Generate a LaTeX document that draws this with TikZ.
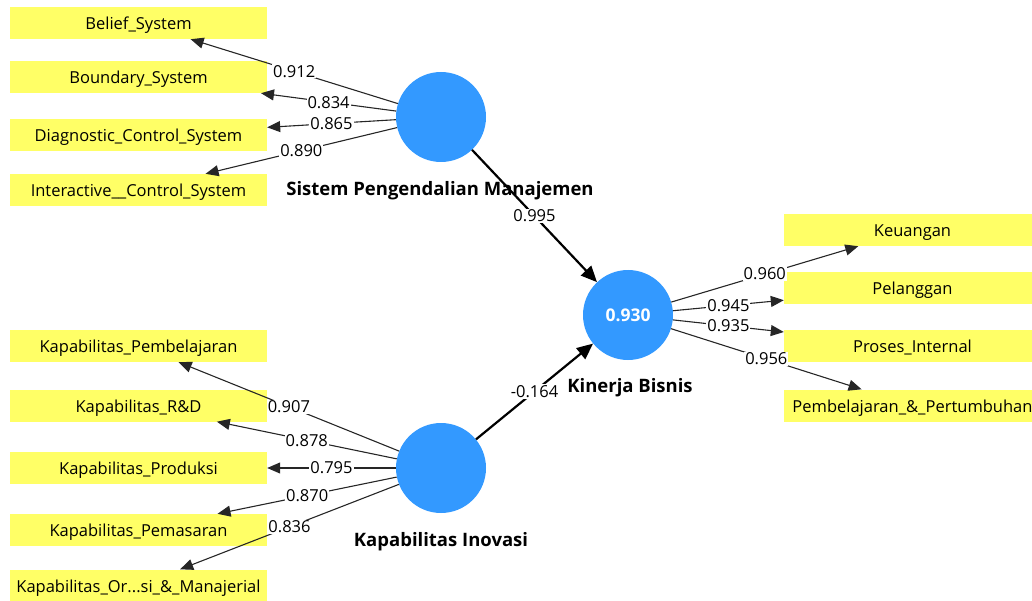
\documentclass[tikz,border=0pt]{standalone}
\usepackage{fontspec}
\setmainfont{Open Sans}
\usetikzlibrary{arrows.meta}
\definecolor{lvblue}{RGB}{51,153,255}
\definecolor{indyellow}{RGB}{255,255,102}
\tikzset{
  ind/.style={fill=indyellow, minimum width=257pt, minimum height=32pt, inner sep=0pt, text height=13pt, text depth=0pt, font=\fontsize{16.5}{16.5}\selectfont},
  lv/.style={circle, fill=lvblue, minimum size=90pt, inner sep=0pt},
  lvname/.style={font=\fontsize{18.5}{18.5}\selectfont\bfseries},
  load/.style={draw=black!85, line width=1.1pt, -{Triangle[length=13pt,width=11pt]}},
  struct/.style={draw=black, line width=2.2pt, -{Triangle[length=16pt,width=14pt]}},
  coef/.style={fill=white, inner sep=1pt, font=\fontsize{16.5}{16.5}\selectfont},
}
\begin{document}
\begin{tikzpicture}[x=1pt,y=-1pt]
\useasboundingbox (0,0) rectangle (1032,601);
% latent variables
\node[lv] (spm) at (441,117) {};
\node[lv] (ki) at (441,468) {};
\node[lv] (kb) at (628,315) {\textcolor{white}{\fontsize{17.5}{17.5}\selectfont\bfseries 0.930}};
\node[lvname] (spmname) at (440,191) {Sistem Pengendalian Manajemen};
\node[lvname] (kiname) at (441,542) {Kapabilitas Inovasi};
\node[lvname] (kbname) at (630,388) {Kinerja Bisnis};
% indicators
\node[ind] (bs) at (138.5,23) {Belief\_System};
\node[ind] (bys) at (138.5,77) {Boundary\_System};
\node[ind] (dcs) at (138.5,135) {Diagnostic\_Control\_System};
\node[ind] (ics) at (138.5,190) {Interactive\_\_Control\_System};
\node[ind] (kpb) at (138.5,346) {Kapabilitas\_Pembelajaran};
\node[ind] (krd) at (138.5,405.5) {Kapabilitas\_R\&D};
\node[ind] (kpr) at (138.5,468) {Kapabilitas\_Produksi};
\node[ind] (kpm) at (138.5,530) {Kapabilitas\_Pemasaran};
\node[ind] (kom) at (138.5,585.5) {Kapabilitas\_Or...si\_\&\_Manajerial};
\node[ind] (keu) at (912.5,230) {Keuangan};
\node[ind] (pel) at (912.5,288) {Pelanggan};
\node[ind] (pin) at (912.5,346) {Proses\_Internal};
\node[ind] (ppt) at (912.5,405.5) {Pembelajaran\_\&\_Pertumbuhan};
% outer loadings
\draw[load] (spm) -- node[coef] {0.912} (bs);
\draw[load] (spm) -- node[coef] {0.834} (bys);
\draw[load] (spm) -- node[coef] {0.865} (dcs);
\draw[load] (spm) -- node[coef] {0.890} (ics);
\draw[load] (ki) -- node[coef] {0.907} (kpb);
\draw[load] (ki) -- node[coef] {0.878} (krd);
\draw[load] (ki) -- node[coef] {0.795} (kpr);
\draw[load] (ki) -- node[coef] {0.870} (kpm);
\draw[load] (ki) -- node[coef] {0.836} (kom);
\draw[load] (kb) -- node[coef] {0.960} (keu);
\draw[load] (kb) -- node[coef] {0.945} (pel);
\draw[load] (kb) -- node[coef] {0.935} (pin);
\draw[load] (kb) -- node[coef] {0.956} (ppt);
% path coefficients
\draw[struct] (spm) -- node[coef] {0.995} (kb);
\draw[struct] (ki) -- node[coef] {-0.164} (kb);
\end{tikzpicture}
\end{document}
